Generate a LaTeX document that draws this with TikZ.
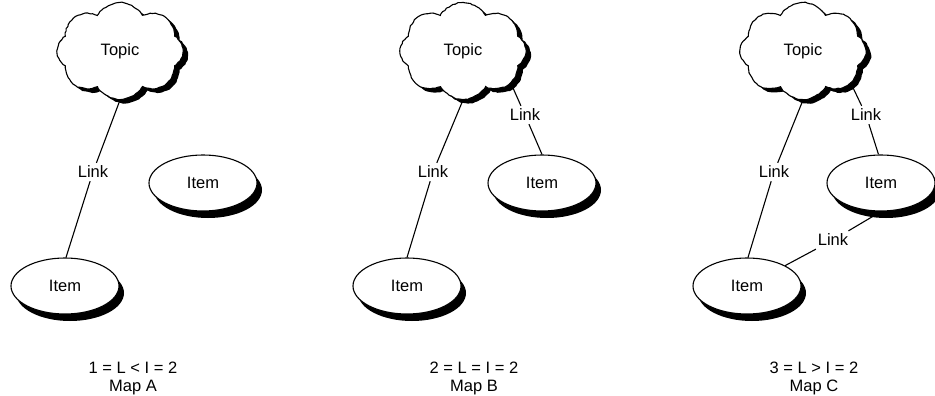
\documentclass[tikz,border=0pt]{standalone}
\usepackage{fontspec}
\setmainfont{Liberation Sans}
\usetikzlibrary{shapes.symbols,shapes.geometric,shadows,decorations.pathmorphing}
\begin{document}
\begin{tikzpicture}[x=1pt,y=-1pt,
  every node/.style={font=\fontsize{16.5}{19}\selectfont},
  topic/.style={cloud, cloud puffs=8, cloud puff arc=120, cloud ignores aspect, draw, line width=1.1pt, fill=white,
    minimum width=126pt, minimum height=97pt, inner sep=0pt,
    decorate, decoration={random steps, segment length=2.5pt, amplitude=0.45pt},
    drop shadow={shadow xshift=5pt, shadow yshift=-4pt, opacity=1, fill=black}},
  item/.style={ellipse, draw, line width=1.1pt, fill=white, minimum width=108pt, minimum height=56pt, inner sep=0pt,
    drop shadow={shadow xshift=5pt, shadow yshift=-7pt, opacity=1, fill=black}},
  linklbl/.style={inner sep=3pt},
  conn/.style={line width=1.1pt},
  caption/.style={anchor=base, inner sep=0pt}
]
\pgfmathsetseed{7}
\useasboundingbox (0,0) rectangle (935,396);

% Map A
\node[topic] (topA) at (120,51) {Topic};
\node[item] (itA1) at (65,286) {Item};
\node[item] (itA2) at (203,183) {Item};
\node[linklbl] (lkA) at (93,172) {Link};
\draw[conn] (topA.south) -- (lkA) -- (itA1.88);
\node[caption] (capA1) at (133,373) {1 = L < I = 2};
\node[caption] (capA2) at (133,391) {Map A};

% Map B
\node[topic] (topB) at (463,51) {Topic};
\node[item] (itB1) at (407,286) {Item};
\node[item] (itB2) at (542,183) {Item};
\node[linklbl] (lkB1) at (433,172) {Link};
\node[linklbl] (lkB2) at (525,115) {Link};
\draw[conn] (topB.south) -- (lkB1) -- (itB1.north);
\draw[conn] (topB.-34) -- (lkB2) -- (itB2.north);
\node[caption] (capB1) at (474,373) {2 = L = I = 2};
\node[caption] (capB2) at (474,391) {Map B};

% Map C
\node[topic] (topC) at (803,51) {Topic};
\node[item] (itC1) at (747,286) {Item};
\node[item] (itC2) at (881,183) {Item};
\node[linklbl] (lkC1) at (774,172) {Link};
\node[linklbl] (lkC2) at (866,115) {Link};
\node[linklbl] (lkC3) at (833,240) {Link};
\draw[conn] (topC.south) -- (lkC1) -- (itC1.88);
\draw[conn] (topC.-34) -- (lkC2) -- (itC2.95);
\draw[conn] (itC1) -- (lkC3) -- (itC2.south);
\node[caption] (capC1) at (814,373) {3 = L > I = 2};
\node[caption] (capC2) at (814,391) {Map C};
\end{tikzpicture}
\end{document}
